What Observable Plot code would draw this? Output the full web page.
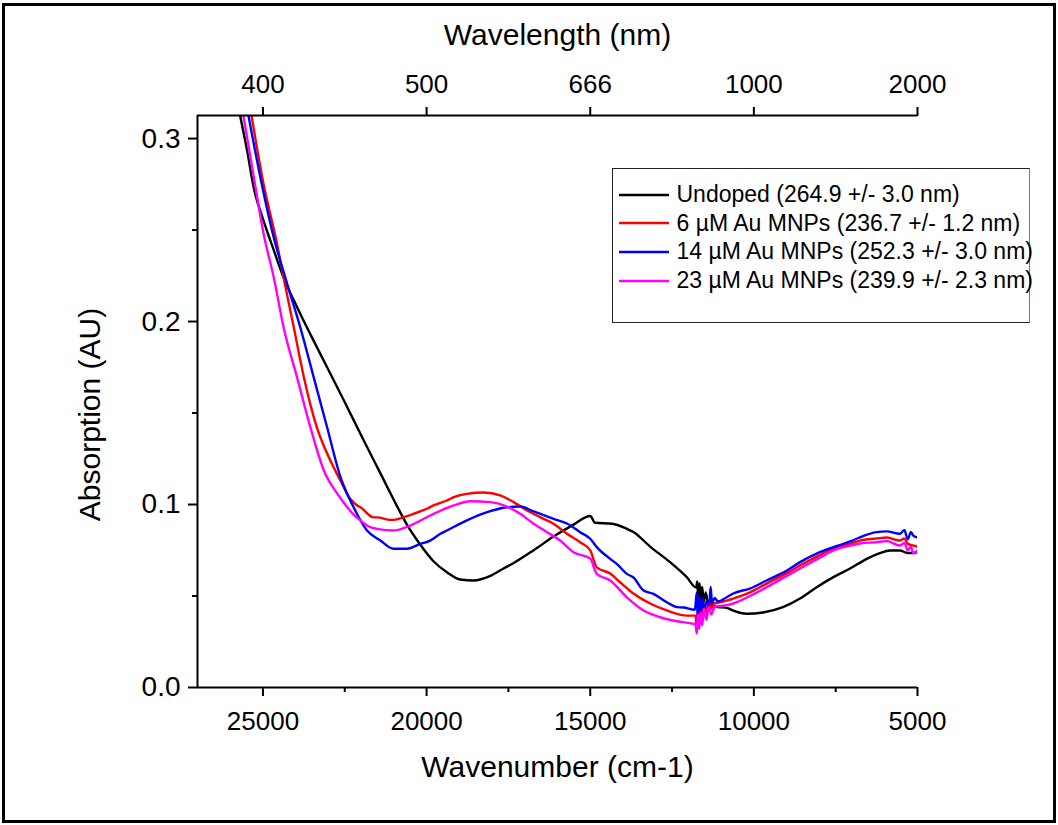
<!DOCTYPE html>
<html>
<head>
<meta charset="utf-8">
<script src="https://cdn.jsdelivr.net/npm/d3@7"></script>
<script src="https://cdn.jsdelivr.net/npm/@observablehq/plot@0.6"></script>
<style>
  body { margin: 0; background: #fff; }
  #wrap { position: relative; width: 1058px; height: 825px; font-family: "Liberation Sans", Arial, sans-serif; }
  #wrap > svg { position: absolute; left: 0; top: 0; }
  #outer { position: absolute; left: 2px; top: 3px; width: 1054px; height: 820px; box-sizing: border-box; border: 3px solid #000; pointer-events: none; }
  #legend { position: absolute; left: 612px; top: 168px; width: 418px; height: 155px; box-sizing: border-box;
            border: 1.5px solid #222; border-right-color: #777; background: #fff; }
  #legend .row { position: absolute; left: 5.5px; height: 28px; display: flex; align-items: center; font-size: 23px; color: #000; white-space: nowrap; }
  #legend .row svg { display: block; margin-right: 8px; flex: none; }
</style>
</head>
<body>
<div id="wrap">
  <div id="legend"></div>
  <div id="outer"></div>
</div>
<script>
// Absorption spectra: [wavenumber (cm-1), absorption (AU)]
const undoped = [
  [25750,0.317],[25480,0.293],[25280,0.273],[24980,0.255],[24670,0.239],[24370,0.224],[23960,0.208],
  [23550,0.193],[23040,0.175],[22530,0.157],[21920,0.135],[21410,0.117],[20900,0.099],[20600,0.089],
  [20190,0.078],[19790,0.069],[19380,0.063],[18970,0.059],[18560,0.0585],[18050,0.061],[17650,0.065],
  [17340,0.068],[16730,0.075],[16120,0.0825],[15510,0.089],[15000,0.0937],[14850,0.090],[14330,0.0895],
  [13880,0.0867],[13680,0.085],[13170,0.077],[12560,0.0685],[12050,0.0603],[11760,0.0546],[11730,0.0580],
  [11700,0.0500],[11660,0.0570],[11620,0.0480],[11580,0.0550],[11530,0.0470],[11470,0.0520],[11400,0.0460],
  [11330,0.0480],[11250,0.0445],[11100,0.0440],[10830,0.0435],[10630,0.0420],[10220,0.0403],[9720,0.0410],
  [9110,0.0439],[8590,0.0486],[8080,0.0548],[7570,0.0603],[7060,0.0650],[6550,0.0703],[6150,0.0734],
  [5840,0.0749],[5540,0.0749],[5300,0.0735],[5000,0.0738]
];
const au6 = [
  [25400,0.318],[24980,0.275],[24570,0.2425],[24370,0.224],[24060,0.197],[23750,0.1696],[23350,0.142],
  [22940,0.124],[22530,0.1095],[22430,0.1058],[22120,0.0995],[22020,0.0985],
  [21620,0.093],[21510,0.093],[21110,0.0916],[21010,0.0916],[20600,0.0937],[20400,0.0949],[19990,0.0977],
  [19790,0.0995],[19380,0.1022],[19170,0.104],[18770,0.1058],[18260,0.1066],[17750,0.105],[17340,0.1013],
  [16930,0.0967],[16530,0.0931],[16120,0.0895],[15710,0.084],[15310,0.0794],[15000,0.0749],[14800,0.0657],
  [14390,0.0623],[14080,0.0574],[13680,0.0514],[13170,0.0459],[12660,0.0421],[12050,0.0393],[11780,0.0393],
  [11745,0.0300],[11710,0.0450],[11670,0.0360],[11630,0.0440],[11580,0.0380],[11520,0.0460],[11450,0.0410],
  [11380,0.0470],[11300,0.0430],[11200,0.0460],[11050,0.0465],[10830,0.0475],[10630,0.0486],[10120,0.0520],
  [9610,0.0568],[8990,0.0625],[8590,0.0667],[8080,0.0715],[7570,0.0760],[7060,0.0785],[6760,0.0803],
  [6250,0.0814],[5940,0.0820],[5540,0.0803],[5400,0.0815],[5300,0.0785],[5130,0.0776],[5000,0.0770]
];
const au14 = [
  [25500,0.318],[25080,0.2789],[24670,0.246],[24260,0.2206],[23860,0.1969],[23450,0.1696],[23040,0.1422],
  [22630,0.1149],[22230,0.0985],[21820,0.0858],[21410,0.0803],[21010,0.0758],
  [20600,0.0758],[20190,0.0785],[19890,0.0803],[19580,0.084],[19380,0.0858],[18770,0.0913],[18150,0.0958],
  [17540,0.0985],[17140,0.0989],[16730,0.0962],[16120,0.0922],[15710,0.0896],[15310,0.0849],[15000,0.0813],
  [14800,0.0767],[14390,0.0703],[14190,0.0676],[13880,0.0621],[13680,0.0601],[13370,0.0530],[13070,0.0512],
  [12660,0.0466],[12350,0.0439],[12150,0.0437],[11800,0.0425],[11745,0.0520],[11710,0.0370],[11670,0.0500],
  [11630,0.0400],[11580,0.0490],[11520,0.0420],[11450,0.0470],[11370,0.0440],[11320,0.0550],[11280,0.0460],
  [11200,0.0490],[11100,0.0470],[10830,0.0493],[10630,0.0514],[10120,0.0541],[9610,0.0585],[8990,0.0639],
  [8590,0.0685],[8080,0.0732],[7570,0.0767],[7060,0.0798],[6760,0.0821],[6250,0.0849],[5940,0.0853],
  [5540,0.0840],[5400,0.0860],[5300,0.0810],[5200,0.0850],[5130,0.0830],[5000,0.0820]
];
const au23 = [
  [25650,0.318],[25280,0.2789],[24980,0.2479],[24670,0.2242],[24370,0.1969],[23960,0.1696],[23550,0.1422],
  [23140,0.1186],[22730,0.106],[22530,0.101],[22230,0.0945],[22020,0.0913],[21720,0.0876],
  [21510,0.0867],[21010,0.0858],[20500,0.0885],[19890,0.094],[19170,0.0995],[18660,0.1018],[18050,0.1013],
  [17540,0.0989],[17140,0.0949],[16730,0.0895],[16320,0.0849],[15920,0.0803],[15510,0.0739],[15000,0.0705],
  [14800,0.0621],[14390,0.0585],[13880,0.0493],[13370,0.0421],[12860,0.0384],[12350,0.0362],[11850,0.0348],
  [11780,0.0345],[11745,0.0295],[11710,0.0400],[11670,0.0320],[11630,0.0410],[11580,0.0340],[11520,0.0430],
  [11450,0.0370],[11380,0.0440],[11300,0.0400],[11200,0.0440],[11050,0.0445],[10830,0.0450],[10630,0.0459],
  [10120,0.0500],[9610,0.0548],[8990,0.0610],[8590,0.0650],[8080,0.0700],[7570,0.0749],[7060,0.0775],
  [6760,0.0787],[6250,0.0794],[5940,0.0800],[5540,0.0776],[5400,0.0790],[5300,0.0750],[5200,0.0770],
  [5130,0.0732],[5000,0.0750]
];

const seriesNames = [
  "Undoped (264.9 +/- 3.0 nm)",
  "6 \u00b5M Au MNPs (236.7 +/- 1.2 nm)",
  "14 \u00b5M Au MNPs (252.3 +/- 3.0 nm)",
  "23 \u00b5M Au MNPs (239.9 +/- 2.3 nm)"
];
const seriesColors = ["#000000", "#ff0000", "#0000ff", "#ff00ff"];

const wavenumberTicks = [25000, 20000, 15000, 10000, 5000];
const wavenumberMinorTicks = [22500, 17500, 12500, 7500];
const wavelengthLabels = ["400", "500", "666", "1000", "2000"];
const absorptionTicks = [0, 0.1, 0.2, 0.3];
const absorptionMinorTicks = [0.05, 0.15, 0.25];

const xDomain = [27000, 5000];
const yDomain = [0, 0.3126];

const series = [undoped, au6, au14, au23];
const tickFont = 26;
const titleFont = 30;

const chart = Plot.plot({
  width: 1058,
  height: 825,
  marginLeft: 197,
  marginRight: 141,
  marginTop: 115,
  marginBottom: 138,
  style: { fontFamily: "'Liberation Sans', Arial, sans-serif", color: "#000", background: "transparent", overflow: "visible" },
  x: { domain: xDomain },
  y: { domain: yDomain },
  marks: [
    ...series.map((pts, i) => Plot.line(pts, {
      x: d => d[0], y: d => d[1], stroke: seriesColors[i], strokeWidth: 2.4, curve: "monotone-x", clip: true
    })),
    // axis lines
    Plot.ruleX([xDomain[0]], { stroke: "#000", strokeWidth: 2 }),
    Plot.ruleY([yDomain[0]], { stroke: "#000", strokeWidth: 2 }),
    Plot.ruleY([yDomain[1]], { stroke: "#000", strokeWidth: 2 }),
    // bottom axis: wavenumber
    Plot.axisX(wavenumberTicks, { anchor: "bottom", tickSize: 9, tickPadding: 15, strokeWidth: 2,
      tickFormat: d3.format("d"), fontSize: tickFont, label: null }),
    Plot.axisX(wavenumberMinorTicks, { anchor: "bottom", tickSize: 5, strokeWidth: 2,
      tickFormat: () => "", label: null }),
    // top axis: wavelength
    Plot.axisX(wavenumberTicks, { anchor: "top", tickSize: 9, tickPadding: 14, strokeWidth: 2,
      tickFormat: d => wavelengthLabels[wavenumberTicks.indexOf(d)], fontSize: tickFont, label: null }),
    // left axis: absorption
    Plot.axisY(absorptionTicks, { anchor: "left", tickSize: 9, tickPadding: 8, strokeWidth: 2,
      tickFormat: d3.format(".1f"), fontSize: 28, label: null }),
    Plot.axisY(absorptionMinorTicks, { anchor: "left", tickSize: 5, strokeWidth: 2,
      tickFormat: () => "", label: null }),
    // axis titles
    Plot.text(["Wavenumber (cm-1)"], { text: d => d, frameAnchor: "bottom", textAnchor: "middle", lineAnchor: "middle", dy: 80, fontSize: titleFont }),
    Plot.text(["Wavelength (nm)"], { text: d => d, frameAnchor: "top", textAnchor: "middle", lineAnchor: "middle", dy: -80, fontSize: titleFont }),
    Plot.text(["Absorption (AU)"], { text: d => d, frameAnchor: "left", textAnchor: "middle", lineAnchor: "middle", rotate: -90, dx: -107, dy: 13, fontSize: titleFont })
  ]
});

document.getElementById("wrap").prepend(chart);

// legend
const legend = document.getElementById("legend");
seriesNames.forEach((name, i) => {
  const row = document.createElement("div");
  row.className = "row";
  row.style.top = (11.5 + i * 28.7) + "px";
  row.innerHTML = `<svg width="50" height="4"><line x1="0" x2="50" y1="2" y2="2" stroke="${seriesColors[i]}" stroke-width="2.4"/></svg><span>${name}</span>`;
  legend.appendChild(row);
});
</script>
</body>
</html>
